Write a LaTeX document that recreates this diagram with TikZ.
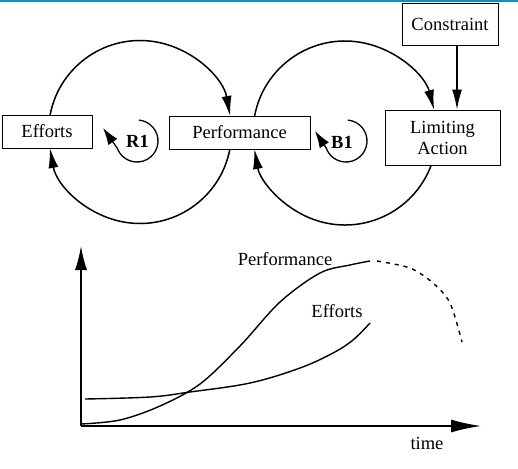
\documentclass[tikz,border=0pt]{standalone}
\usepackage{fontspec}
\setmainfont{Liberation Serif}
\usetikzlibrary{arrows.meta}
\definecolor{topline}{RGB}{0,150,200}
\begin{document}
\begin{tikzpicture}[x=1pt,y=-1pt,
  txt/.style={font=\fontsize{18.5}{21}\selectfont},
  box/.style={txt, draw, line width=0.8pt, inner sep=0pt, align=center},
  lbl/.style={txt, inner sep=0pt},
  loopline/.style={line width=1.5pt},
  tip/.style={-{Latex[length=20pt,width=10pt]}},
  smalltip/.style={-{Latex[length=17pt,width=11pt]}},
  curve/.style={line width=1.4pt},
]
\useasboundingbox (0,0) rectangle (518,468);
\fill[white] (0,0) rectangle (518,468);
\fill[topline] (0,0) rectangle (518,2);

% boxes
\node[box, minimum width=90pt, minimum height=33pt] (eff) at (47,131.5) {Efforts};
\node[box, minimum width=141pt, minimum height=33pt] (perf) at (239.5,132.5) {Performance};
\node[box, minimum width=115pt, minimum height=55pt] (lim) at (442.5,137.5) {Limiting\\Action};
\node[box, minimum width=96pt, minimum height=42pt] (con) at (450,24) {Constraint};

% circle centres
\coordinate (c1) at (140,132);
\coordinate (c2) at (345,133);

% left loop (R1)
\draw[loopline,tip] ([shift={(190.7:91.5)}]c1) arc[start angle=190.7, end angle=349.9, radius=91.5];
\draw[loopline,tip] ([shift={(10.7:91.5)}]c1) arc[start angle=10.7, end angle=169.9, radius=91.5];

% right loop (B1)
\draw[loopline,tip] ([shift={(190.65:92)}]c2) arc[start angle=190.65, end angle=345.5, radius=92];
\draw[loopline,tip] ([shift={(20.35:92)}]c2) arc[start angle=20.35, end angle=169.98, radius=92];

% constraint arrow
\coordinate (cx) at (457,0);
\draw[loopline,tip] (con.south -| cx) -- (lim.north -| cx);

% loop markers
\coordinate (r1c) at (137,141);
\coordinate (r1tip) at (103,128);
\node[lbl, font=\fontsize{18.5}{21}\selectfont\bfseries] (r1) at (137.5,141) {R1};
\draw[line width=1.3pt, smalltip] ([shift={(-85:21)}]r1c) arc[start angle=-85, end angle=160, radius=21] -- (r1tip);

\coordinate (b1c) at (346,141);
\coordinate (b1tip) at (315,131);
\node[lbl, font=\fontsize{18.5}{21}\selectfont\bfseries] (b1) at (342,142) {B1};
\draw[line width=1.3pt, smalltip] ([shift={(-85:21)}]b1c) arc[start angle=-85, end angle=160, radius=21] -- (b1tip);

% graph axes
\coordinate (o) at (81,426);
\coordinate (ytop) at (81,246);
\coordinate (xend) at (481,426);
\draw[line width=1.5pt, -{Latex[length=24pt,width=12pt]}] (o) -- (ytop);
\draw[line width=1.5pt, -{Latex[length=30pt,width=13pt]}] (o) -- (xend);

% curves
\draw[curve] plot[smooth, tension=0.55] coordinates {(81,424) (120,420) (160,406) (200,384) (240,346) (280,302) (320,273) (350,265) (370,261)};
\draw[curve, dash pattern=on 4pt off 5pt] plot[smooth] coordinates {(377,261) (410,268) (433,283) (450,303) (462,342)};
\draw[curve] plot[smooth, tension=0.6] coordinates {(85,399) (150,397) (190,392) (250,383) (300,368) (333,353) (353,340) (370,323)};

% labels
\node[lbl] (plbl) at (285,259) {Performance};
\node[lbl] (elbl) at (337,311) {Efforts};
\node[lbl] (tlbl) at (427,443) {time};
\end{tikzpicture}
\end{document}
